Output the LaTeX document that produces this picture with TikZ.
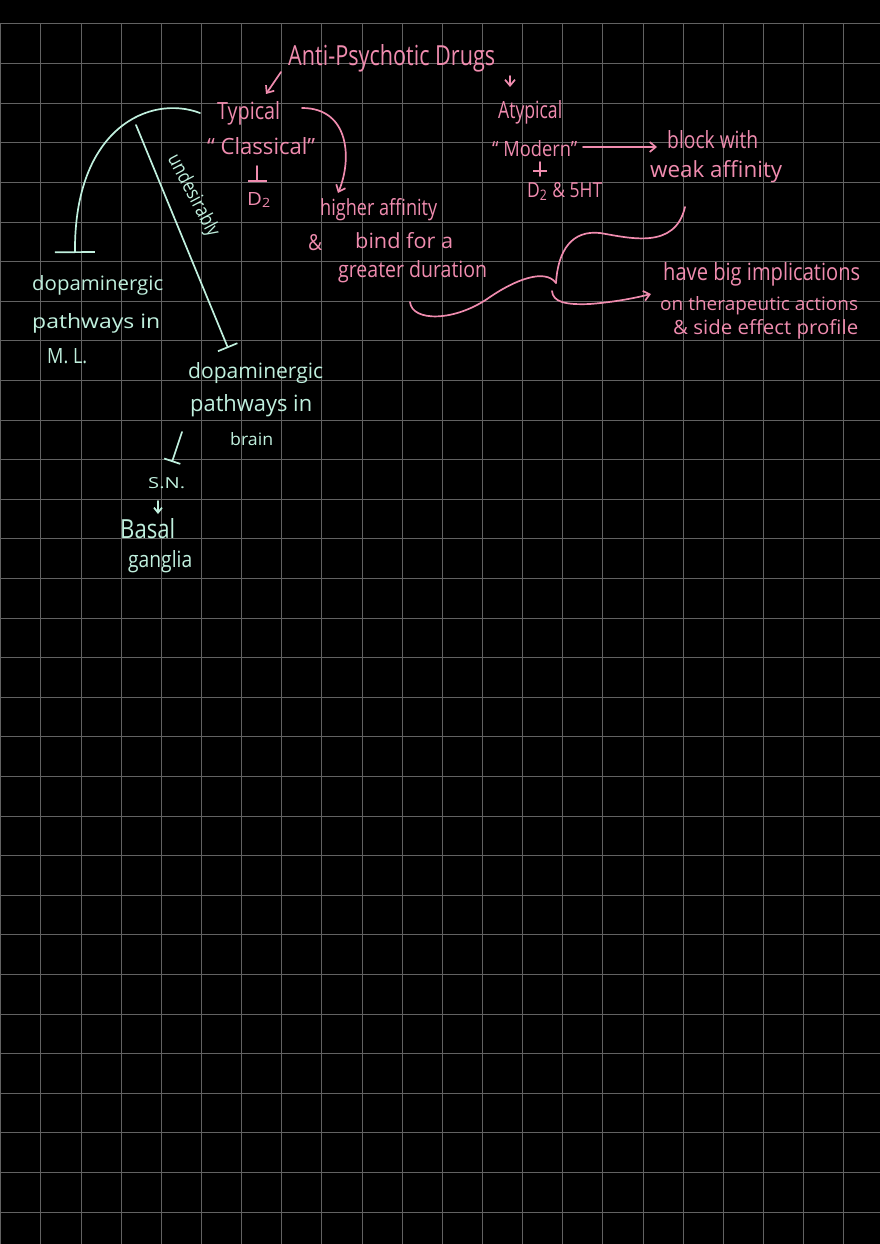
\documentclass[tikz,border=0pt]{standalone}
\usepackage{fontspec}
\setmainfont{Open Sans}
\usepackage{graphicx}
\usetikzlibrary{arrows.meta}
\definecolor{gridc}{RGB}{98,98,98}
\definecolor{pink1}{RGB}{240,140,175}
\definecolor{mint1}{RGB}{192,240,222}
\newcommand{\fh}[3]{\resizebox{#1pt}{#2pt}{#3}}
\tikzset{
  gridline/.style={draw=gridc, line width=1pt},
  pk/.style={text=pink1, inner sep=0pt, anchor=base west},
  mt/.style={text=mint1, inner sep=0pt, anchor=base west},
  pl/.style={draw=pink1, line width=1.7pt, line cap=round, line join=round},
  ml/.style={draw=mint1, line width=1.7pt, line cap=round, line join=round},
  pa/.style={pl, -{Straight Barb[length=6pt,width=10pt,line width=1.7pt]}},
  ma/.style={ml, -{Straight Barb[length=5pt,width=8pt,line width=1.7pt]}},
}
\begin{document}
\begin{tikzpicture}[x=1pt,y=-1pt]
\path[use as bounding box, fill=black] (0,0) rectangle (880,1244);
% grid
\foreach \k in {0,...,21} \draw[gridline] ({0.7+40.15*\k},24) -- ({0.7+40.15*\k},1244);
\foreach \k in {0,...,30} \draw[gridline] (0,{24+39.6*\k}) -- (880,{24+39.6*\k});

% ---------- pink texts ----------
\node[pk] (title) at (288,66) {\fh{207}{21}{Anti-Psychotic Drugs}};
\node[pk] (typ) at (217,120) {\fh{63}{18}{Typical}};
\node[pk] (class) at (207,155) {\fh{108}{17}{“ Classical”}};
\node[pk] (d2a) at (247,205) {\fh{24}{13}{D\textsubscript{2}}};
\node[pk] (atyp) at (498,119) {\fh{64}{18}{Atypical}};
\node[pk] (mod) at (492,156) {\fh{85}{16}{“ Modern”}};
\node[pk] (d2b) at (527,197) {\fh{75}{15}{D\textsubscript{2} \& 5HT}};
\node[pk] (block) at (667,148) {\fh{91}{18}{block with}};
\node[pk] (weak) at (650,177) {\fh{132}{17}{weak affinity}};
\node[pk] (high) at (320,215) {\fh{117}{17}{higher affinity}};
\node[pk] (amp1) at (308,250) {\fh{14}{16}{\&}};
\node[pk] (bind) at (355,248) {\fh{98}{16}{bind for a}};
\node[pk] (great) at (338,277) {\fh{149}{17}{greater duration}};
\node[pk] (have) at (663,280) {\fh{197}{18}{have big implications}};
\node[pk] (ther) at (660,310) {\fh{198}{14}{on therapeutic actions}};
\node[pk] (side) at (673,334) {\fh{185}{15}{\& side effect profile}};

% ---------- mint texts ----------
\node[mt] (dopL) at (32,290) {\fh{131}{15}{dopaminergic}};
\node[mt] (pathL) at (32,328) {\fh{128}{15}{pathways in}};
\node[mt] (ml) at (47,363) {\fh{40}{15}{M. L.}};
\node[mt] (dopR) at (188,378) {\fh{135}{16}{dopaminergic}};
\node[mt] (pathR) at (190,411) {\fh{122}{17}{pathways in}};
\node[mt] (brain) at (230,445) {\fh{43}{13}{brain}};
\node[mt] (sn) at (148,488) {\fh{37}{11}{S.N.}};
\node[mt] (basal) at (120,538) {\fh{55}{20}{Basal}};
\node[mt] (gang) at (128,567) {\fh{64}{17}{ganglia}};
\node[text=mint1, inner sep=0pt, rotate=-62] (und) at (193,196) {\fh{90}{15}{undesirably}};

% ---------- coordinates ----------
\coordinate (t1) at (281,72);   \coordinate (t2) at (266,94);
\coordinate (t3) at (510,76);   \coordinate (t4) at (510,87);
\coordinate (c1) at (302,108);  \coordinate (c2) at (338,193);
\coordinate (i1) at (257,166);  \coordinate (i2) at (257,182);
\coordinate (i3) at (540,162);  \coordinate (i4) at (540,172);
\coordinate (m1) at (583,147);  \coordinate (m2) at (657,147);
\coordinate (w1) at (410,302);  \coordinate (jn) at (556,283);
\coordinate (w2) at (685,207);
\coordinate (j1) at (552,291);  \coordinate (h1) at (651,294);
\coordinate (a1) at (200,113);  \coordinate (a2) at (75,253);
\coordinate (u1) at (136,125);  \coordinate (u2) at (228,348);
\coordinate (b1) at (182,432);  \coordinate (b2) at (172,462);
\coordinate (s1) at (158,501);  \coordinate (s2) at (158,514);

% ---------- pink connectors ----------
\draw[pa] (t1) -- (t2);
\draw[pa] (t3) -- (t4);
\draw[pa] (c1) .. controls (350,108) and (352,160) .. (c2);
\draw[pl, -{Bar[width=19pt,line width=1.7pt]}] (i1) -- (i2);
\draw[pl, -{Bar[width=14pt,line width=1.7pt]}] (i3) -- (i4);
\draw[pl] (i4) -- (540,176);
\draw[pa] (m1) -- (m2);
\draw[pl] (w1) .. controls (412,322) and (455,322) .. (490,297)
          .. controls (515,280) and (545,268) .. (jn);
\draw[pl] (jn) .. controls (558,250) and (572,230) .. (600,233)
          .. controls (630,238) and (675,250) .. (w2);
\draw[pa] (j1) .. controls (553,302) and (565,305) .. (590,304)
          .. controls (615,302) and (635,298) .. (h1);

% ---------- mint connectors ----------
\draw[ml, -{Bar[width=40pt,line width=1.7pt]}] (a1) .. controls (150,94) and (74,128) .. (a2);
\draw[ml, -{Bar[width=21pt,line width=1.7pt]}] (u1) -- (u2);
\draw[ml, -{Bar[width=17pt,line width=1.7pt]}] (b1) -- (b2);
\draw[ma] (s1) -- (s2);
\end{tikzpicture}
\end{document}
